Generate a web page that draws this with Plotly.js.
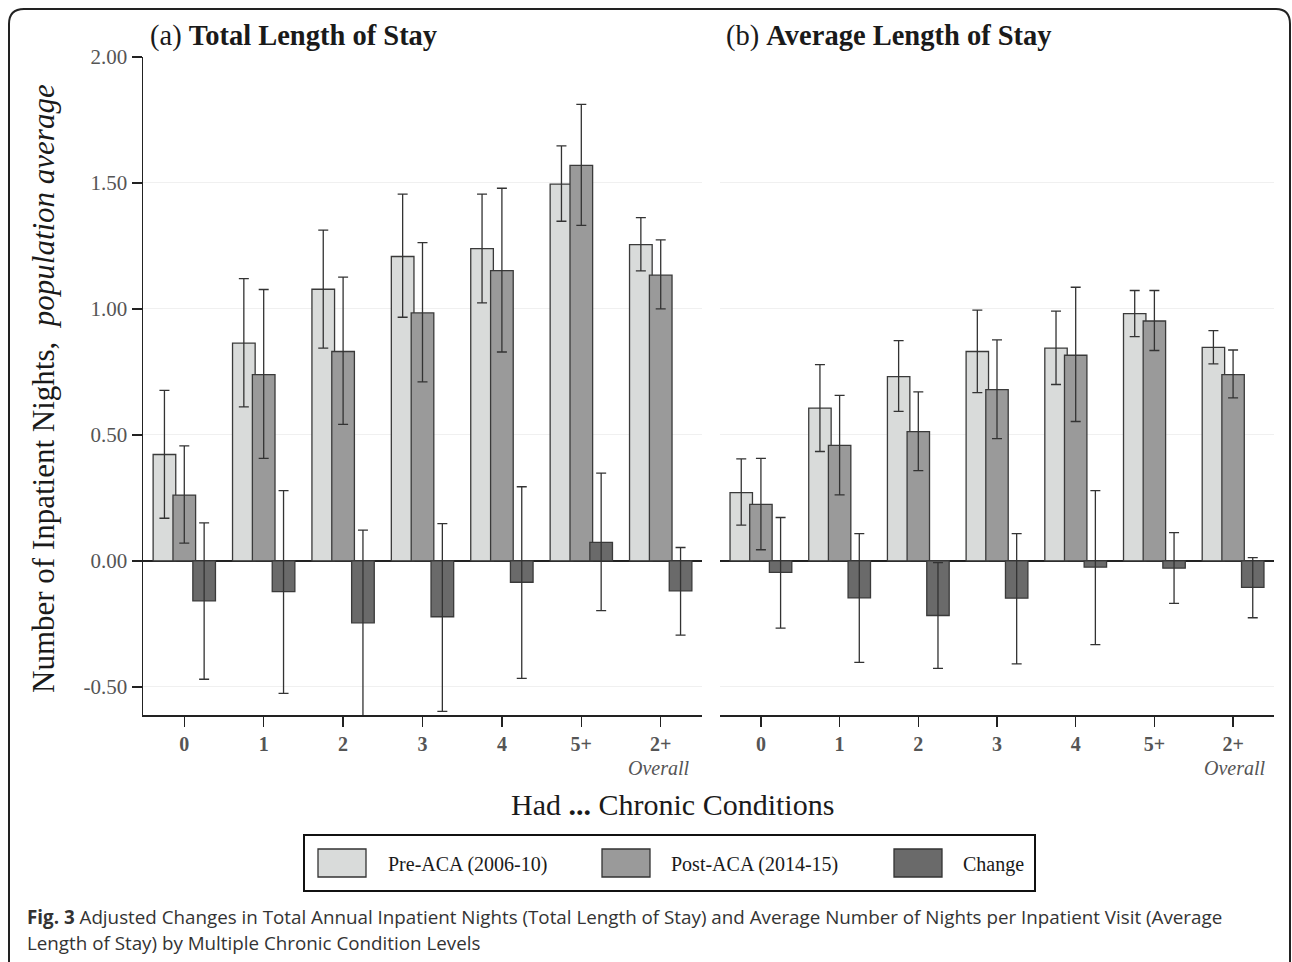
<!DOCTYPE html>
<html>
<head>
<meta charset="utf-8">
<script src="https://cdn.plot.ly/plotly-3.0.1.min.js"></script>
<style>
  html, body { margin: 0; padding: 0; background: #ffffff; }
  #chart { width: 1292px; height: 962px; }
</style>
</head>
<body>
<div id="chart"></div>
<script>
// ---------- data ----------
const categories = ["0", "1", "2", "3", "4", "5+", "2+"];
const seriesNames = ["Pre-ACA (2006-10)", "Post-ACA (2014-15)", "Change"];
const yTickVals = [-0.5, 0, 0.5, 1, 1.5, 2];
const yTickText = ["-0.50", "0.00", "0.50", "1.00", "1.50", "2.00"];

// (a) Total Length of Stay
const totalPre     = [0.422, 0.864, 1.078, 1.208, 1.239, 1.495, 1.255];
const totalPreLo   = [0.169, 0.611, 0.844, 0.967, 1.024, 1.348, 1.151];
const totalPreHi   = [0.677, 1.120, 1.313, 1.456, 1.456, 1.647, 1.362];
const totalPost    = [0.261, 0.739, 0.831, 0.984, 1.152, 1.570, 1.134];
const totalPostLo  = [0.070, 0.407, 0.542, 0.710, 0.829, 1.332, 1.000];
const totalPostHi  = [0.456, 1.077, 1.126, 1.263, 1.479, 1.812, 1.274];
const totalChange   = [-0.159, -0.122, -0.246, -0.222, -0.085, 0.073, -0.119];
const totalChangeLo = [-0.470, -0.526, -0.640, -0.598, -0.467, -0.198, -0.295];
const totalChangeHi = [0.151, 0.279, 0.122, 0.148, 0.294, 0.348, 0.053];

// (b) Average Length of Stay
const avgPre     = [0.271, 0.606, 0.731, 0.831, 0.844, 0.981, 0.847];
const avgPreLo   = [0.142, 0.434, 0.593, 0.668, 0.700, 0.890, 0.782];
const avgPreHi   = [0.405, 0.779, 0.874, 0.995, 0.991, 1.073, 0.914];
const avgPost    = [0.224, 0.458, 0.513, 0.680, 0.816, 0.952, 0.739];
const avgPostLo  = [0.044, 0.262, 0.358, 0.485, 0.553, 0.835, 0.647];
const avgPostHi  = [0.407, 0.657, 0.671, 0.877, 1.086, 1.073, 0.837];
const avgChange   = [-0.046, -0.147, -0.217, -0.148, -0.025, -0.029, -0.105];
const avgChangeLo = [-0.267, -0.403, -0.427, -0.409, -0.333, -0.169, -0.226];
const avgChangeHi = [0.172, 0.108, -0.007, 0.108, 0.279, 0.112, 0.013];

// ---------- styling ----------
const W = 1292, H = 962;
const PX = p => p / W;
const PY = p => 1 - p / H;
const serif = "Liberation Serif, Times New Roman, serif";
const sans = "Open Sans, Noto Sans, sans-serif";
const fills = ["#d9dbda", "#9a9a9a", "#6a6a6a"];
const barWidth = 0.285;
const barCenters = [-0.25, 0, 0.25];

function barTrace(vals, lo, hi, k, xa, ya) {
  return {
    type: "bar",
    x: categories,
    y: vals,
    xaxis: xa, yaxis: ya,
    name: seriesNames[k],
    showlegend: false,
    width: barWidth,
    offset: barCenters[k] - barWidth / 2,
    marker: { color: fills[k], line: { color: "#3a3a3a", width: 1.3 } },
    error_y: {
      type: "data", symmetric: false,
      array: hi.map((h, i) => h - vals[i]),
      arrayminus: lo.map((l, i) => vals[i] - l),
      color: "#333333", thickness: 1.3, width: 5
    },
    hoverinfo: "skip"
  };
}

const data = [
  barTrace(totalPre, totalPreLo, totalPreHi, 0, "x", "y"),
  barTrace(totalPost, totalPostLo, totalPostHi, 1, "x", "y"),
  barTrace(totalChange, totalChangeLo, totalChangeHi, 2, "x", "y"),
  barTrace(avgPre, avgPreLo, avgPreHi, 0, "x2", "y2"),
  barTrace(avgPost, avgPostLo, avgPostHi, 1, "x2", "y2"),
  barTrace(avgChange, avgChangeLo, avgChangeHi, 2, "x2", "y2")
];

const yDom = [PY(715), PY(57)];
const yRange = [-0.612, 2.0];
const xRange = [-0.52, 6.52];

const xCommon = {
  type: "category", range: xRange, fixedrange: true,
  showline: true, linecolor: "#222", linewidth: 1.5,
  ticks: "outside", ticklen: 10, tickcolor: "#222", tickwidth: 1.5,
  tickfont: { family: serif, size: 20, color: "#555555", weight: "bold" },
  showgrid: false, zeroline: false, automargin: false
};
const yCommon = {
  range: yRange, domain: yDom, fixedrange: true,
  tickmode: "array", tickvals: yTickVals, ticktext: yTickText,
  showgrid: true, gridcolor: "#f0f0f0", gridwidth: 1,
  zeroline: true, zerolinecolor: "#222", zerolinewidth: 1.5,
  automargin: false
};

const annotations = [
  { text: "(a) <b>Total Length of Stay</b>", xref: "paper", yref: "paper",
    x: PX(148), y: PY(36), xanchor: "left", yanchor: "middle", showarrow: false,
    font: { family: serif, size: 28.5, color: "#1a1a1a" } },
  { text: "(b) <b>Average Length of Stay</b>", xref: "paper", yref: "paper",
    x: PX(724), y: PY(36), xanchor: "left", yanchor: "middle", showarrow: false,
    font: { family: serif, size: 28.5, color: "#1a1a1a" } },
  { text: "Number of Inpatient Nights,  <i>population average</i>", xref: "paper", yref: "paper",
    x: PX(43), y: PY(389), xanchor: "center", yanchor: "middle", textangle: -90, showarrow: false,
    font: { family: serif, size: 31, color: "#1a1a1a" } },
  { text: "Had <b>...</b> Chronic Conditions", xref: "paper", yref: "paper",
    x: PX(672), y: PY(804), xanchor: "center", yanchor: "middle", showarrow: false,
    font: { family: serif, size: 30, color: "#1a1a1a" } },
  { text: "<i>Overall</i>", xref: "paper", yref: "paper",
    x: PX(692), y: PY(768), xanchor: "right", yanchor: "middle", showarrow: false,
    font: { family: serif, size: 20, color: "#555555" } },
  { text: "<i>Overall</i>", xref: "paper", yref: "paper",
    x: PX(1268), y: PY(768), xanchor: "right", yanchor: "middle", showarrow: false,
    font: { family: serif, size: 20, color: "#555555" } },
  { text: "<b>Fig. 3</b> Adjusted Changes in Total Annual Inpatient Nights (Total Length of Stay) and Average Number of Nights per Inpatient Visit (Average",
    xref: "paper", yref: "paper", x: PX(25), y: PY(917), xanchor: "left", yanchor: "middle",
    align: "left", showarrow: false,
    font: { family: sans, size: 18.8, color: "#333333" } },
  { text: "Length of Stay) by Multiple Chronic Condition Levels",
    xref: "paper", yref: "paper", x: PX(25), y: PY(943), xanchor: "left", yanchor: "middle",
    align: "left", showarrow: false,
    font: { family: sans, size: 18.8, color: "#333333" } }
];

// legend (drawn as shapes + text)
const swX = [318, 602, 894];
const txX = [386, 669, 961];
const shapes = [
  { type: "path", xref: "paper", yref: "paper",
    path: `M ${PX(9)},${PY(962)} L ${PX(9)},${PY(24)} Q ${PX(9)},${PY(9)} ${PX(24)},${PY(9)} L ${PX(1276)},${PY(9)} Q ${PX(1290)},${PY(9)} ${PX(1290)},${PY(24)} L ${PX(1290)},${PY(962)}`,
    line: { color: "#222", width: 2 } },
  { type: "rect", xref: "paper", yref: "paper",
    x0: PX(304), x1: PX(1035), y0: PY(891), y1: PY(835),
    line: { color: "#111", width: 2 }, fillcolor: "rgba(0,0,0,0)" }
];
seriesNames.forEach((nm, k) => {
  shapes.push({ type: "rect", xref: "paper", yref: "paper",
    x0: PX(swX[k]), x1: PX(swX[k] + 48), y0: PY(877), y1: PY(849),
    line: { color: "#333", width: 1.3 }, fillcolor: fills[k] });
  annotations.push({ text: nm, xref: "paper", yref: "paper",
    x: PX(txX[k]), y: PY(864), xanchor: "left", yanchor: "middle", showarrow: false,
    font: { family: serif, size: 20, color: "#1a1a1a" } });
});

const layout = {
  width: W, height: H,
  margin: { l: 0, r: 0, t: 0, b: 0, pad: 0 },
  paper_bgcolor: "#ffffff", plot_bgcolor: "#ffffff",
  barmode: "overlay",
  showlegend: false,
  font: { family: serif, color: "#333" },
  xaxis: Object.assign({}, xCommon, { domain: [PX(143), PX(702)], anchor: "y" }),
  xaxis2: Object.assign({}, xCommon, { domain: [PX(720), PX(1274)], anchor: "y2" }),
  yaxis: Object.assign({}, yCommon, {
    anchor: "x", showline: true, linecolor: "#222", linewidth: 1.5,
    ticks: "outside", ticklen: 10, tickcolor: "#222", tickwidth: 1.5,
    tickfont: { family: serif, size: 21, color: "#555555" }
  }),
  yaxis2: Object.assign({}, yCommon, {
    anchor: "x2", showline: false, ticks: "", showticklabels: false
  }),
  annotations: annotations,
  shapes: shapes
};

Plotly.newPlot("chart", data, layout, { displayModeBar: false, staticPlot: true });
</script>
</body>
</html>
